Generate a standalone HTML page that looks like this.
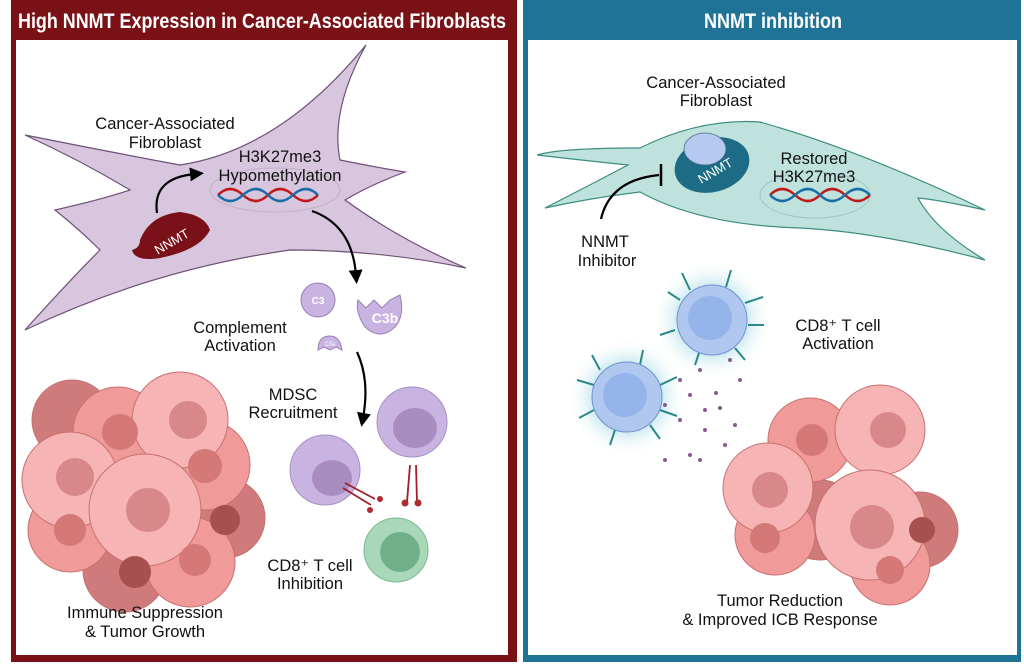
<!DOCTYPE html>
<html><head><meta charset="utf-8"><style>
body{margin:0;width:1024px;height:662px;background:#fff;overflow:hidden}
svg text{font-family:"Liberation Sans",sans-serif}
.t{font-size:16.5px;fill:#111;text-anchor:middle}
.h{font-family:"Liberation Sans",sans-serif;font-weight:bold;font-size:21px;fill:#fff}
</style></head><body>
<svg width="1024" height="662" viewBox="0 0 1024 662">
<defs>
<radialGradient id="glow"><stop offset="0.5" stop-color="#a9dce8"/><stop offset="1" stop-color="#fff" stop-opacity="0"/></radialGradient>
<marker id="ar" markerWidth="14" markerHeight="14" refX="5" refY="7" orient="auto" markerUnits="userSpaceOnUse" viewBox="0 0 14 14"><path d="M0,0 L14,7 L0,14Z" fill="#000"/></marker>
</defs>
<rect x="11" y="0" width="506" height="662" fill="#7a1116"/>
<rect x="16" y="40" width="492" height="615" fill="#fff"/>
<rect x="523" y="0" width="498" height="662" fill="#1f7396"/>
<rect x="528" y="40" width="489" height="615" fill="#fff"/>
<text class="h" x="18" y="28" textLength="488" lengthAdjust="spacingAndGlyphs">High NNMT Expression in Cancer-Associated Fibroblasts</text>
<text class="h" x="704" y="28" textLength="138" lengthAdjust="spacingAndGlyphs">NNMT inhibition</text>

<path d="M25,135 Q100,150 180,165 Q280,150 366,45 Q330,110 340,160 Q380,168 405,172 Q370,185 345,200 Q400,240 466,268 Q380,250 290,250 Q150,270 25,330 Q70,280 100,250 Q80,230 55,210 Q100,200 130,190 Q80,160 25,135Z" fill="#d8c6de" stroke="#6d5176" stroke-width="1.2"/>
<ellipse cx="275" cy="190" rx="65" ry="22" fill="none" stroke="#c0b0c4"/>
<path d="M218,195 q12,-12 25,0 t25,0 t25,0 t25,0" fill="none" stroke="#c01a1a" stroke-width="2.5"/>
<path d="M218,195 q12,12 25,0 t25,0 t25,0 t25,0" fill="none" stroke="#1a6ea6" stroke-width="2.5"/>
<path d="M140,240 Q150,215 180,212 Q205,215 210,230 Q200,250 160,258 Q135,262 132,250 Q140,248 140,240Z" fill="#7a1018"/>
<text x="172" y="246" fill="#fff" font-size="13" text-anchor="middle" transform="rotate(-30 172 242)">NNMT</text>
<path d="M157,213 Q152,178 195,174" fill="none" stroke="#000" stroke-width="2.2" marker-end="url(#ar)"/>
<text class="t" x="165" y="129">Cancer-Associated</text>
<text class="t" x="165" y="148">Fibroblast</text>
<text class="t" x="280" y="162">H3K27me3</text>
<text class="t" x="280" y="181">Hypomethylation</text>
<path d="M312,211 Q352,225 356,275" fill="none" stroke="#000" stroke-width="2.2" marker-end="url(#ar)"/>
<circle cx="318" cy="300" r="17" fill="#c9b3e0" stroke="#9a80b8"/>
<text x="318" y="304" fill="#fff" font-size="10" font-weight="bold" text-anchor="middle">C3</text>
<path d="M358,300 l8,8 l8,-8 l8,8 l8,-8 l10,-5 q5,20 -5,32 q-15,14 -30,0 q-10,-15 -7,-27Z" fill="#c9b3e0" stroke="#9a80b8"/>
<text x="385" y="323" fill="#fff" font-size="14" font-weight="bold" text-anchor="middle">C3b</text>
<path d="M318,350 q0,-14 12,-14 q10,0 12,14 l-6,-3 l-6,3 l-6,-3Z" fill="#c9b3e0" stroke="#9a80b8"/>
<text x="330" y="346" fill="#fff" font-size="6" text-anchor="middle">C3a</text>
<text class="t" x="240" y="333">Complement</text>
<text class="t" x="240" y="351">Activation</text>
<path d="M357,352 Q370,380 363,418" fill="none" stroke="#000" stroke-width="2.2" marker-end="url(#ar)"/>
<text class="t" x="293" y="400">MDSC</text>
<text class="t" x="293" y="418">Recruitment</text>
<circle cx="325" cy="470" r="35" fill="#c9b3e0" stroke="#a890c8"/>
<ellipse cx="332" cy="478" rx="20" ry="18" fill="#a98dc0"/>
<circle cx="412" cy="422" r="35" fill="#c9b3e0" stroke="#a890c8"/>
<ellipse cx="415" cy="428" rx="22" ry="20" fill="#a98dc0"/>
<path d="M345,483 l30,16 M343,488 l28,17 M410,465 l-3,37 M416,465 l1,37" stroke="#a0202a" stroke-width="1.8"/>
<circle cx="380" cy="499" r="3" fill="#b02a30"/><circle cx="370" cy="510" r="3" fill="#b02a30"/><circle cx="405" cy="503" r="3.5" fill="#b02a30"/><circle cx="418" cy="503" r="3.5" fill="#b02a30"/>
<circle cx="396" cy="550" r="32" fill="#a8d8b8" stroke="#7ab890"/>
<circle cx="400" cy="552" r="20" fill="#70b088"/>
<text class="t" x="310" y="571">CD8⁺ T cell</text>
<text class="t" x="310" y="589">Inhibition</text>
<g stroke="#c87070" stroke-width="1">
<circle cx="72" cy="420" r="40" fill="#cf7b7b"/>
<circle cx="118" cy="432" r="45" fill="#f09a9a"/>
<circle cx="225" cy="518" r="40" fill="#cf7b7b"/>
<circle cx="125" cy="570" r="42" fill="#cf7b7b"/>
<circle cx="205" cy="465" r="45" fill="#f09a9a"/>
<circle cx="70" cy="530" r="42" fill="#f09a9a"/>
<circle cx="190" cy="562" r="45" fill="#f09a9a"/>
<circle cx="180" cy="420" r="48" fill="#f7b4b4"/>
<circle cx="70" cy="480" r="48" fill="#f7b4b4"/>
<circle cx="145" cy="510" r="56" fill="#f7b4b4"/>
</g>
<g fill="#d47878">
<circle cx="120" cy="432" r="18"/><circle cx="188" cy="420" r="19" fill="#d88888"/><circle cx="75" cy="477" r="19" fill="#d88888"/><circle cx="205" cy="466" r="17"/><circle cx="70" cy="530" r="16"/><circle cx="148" cy="510" r="22" fill="#d88888"/><circle cx="225" cy="520" r="15" fill="#a85050"/><circle cx="135" cy="572" r="16" fill="#a85050"/><circle cx="195" cy="560" r="16"/>
</g>
<text class="t" x="145" y="618">Immune Suppression</text>
<text class="t" x="145" y="637">&amp; Tumor Growth</text>

<path d="M537,155 Q560,148 640,148 Q700,118 760,122 Q860,150 985,210 Q940,200 918,198 Q935,230 985,260 Q880,232 800,228 Q700,225 640,192 Q590,198 545,208 Q590,185 628,165 Q580,160 537,155Z" fill="#bfe3dc" stroke="#3d8c82" stroke-width="1.2"/>
<ellipse cx="815" cy="195" rx="55" ry="23" fill="none" stroke="#9cc8c8"/>
<path d="M770,195 q12,-12 25,0 t25,0 t25,0 t25,0" fill="none" stroke="#c01a1a" stroke-width="2.5"/>
<path d="M770,195 q12,12 25,0 t25,0 t25,0 t25,0" fill="none" stroke="#1a6ea6" stroke-width="2.5"/>
<ellipse cx="712" cy="165" rx="38" ry="27" fill="#1d6b85" transform="rotate(-15 712 165)"/>
<text x="716" y="175" fill="#fff" font-size="13" text-anchor="middle" transform="rotate(-30 716 172)">NNMT</text>
<ellipse cx="705" cy="149" rx="21" ry="16" fill="#b6caef" stroke="#4a6a90" stroke-width="0.8"/>
<path d="M601,219 Q610,180 659,175" fill="none" stroke="#000" stroke-width="2.2"/>
<path d="M661,164 V186" stroke="#000" stroke-width="2.5"/>
<text class="t" x="716" y="88">Cancer-Associated</text>
<text class="t" x="716" y="106">Fibroblast</text>
<text class="t" x="814" y="164">Restored</text>
<text class="t" x="814" y="182">H3K27me3</text>
<text class="t" x="605" y="247">NNMT</text>
<text class="t" x="607" y="266">Inhibitor</text>
<circle cx="712" cy="320" r="60" fill="url(#glow)" opacity="0.8"/>
<circle cx="627" cy="397" r="60" fill="url(#glow)" opacity="0.8"/>
<g stroke="#2a8a8a" stroke-width="2">
<path d="M690,290 l-8,-17 M726,287 l5,-17 M745,303 l18,-6 M748,325 l16,0 M735,348 l10,12 M700,350 l-5,15 M675,330 l-15,5 M680,300 l-12,-8"/>
<path d="M600,370 l-8,-15 M640,365 l3,-15 M660,385 l17,-8 M660,410 l17,6 M650,425 l10,14 M615,430 l-5,15 M594,410 l-15,8 M594,385 l-17,-5"/>
</g>
<circle cx="712" cy="320" r="35" fill="#b0c8f0" stroke="#7090d0"/>
<circle cx="710" cy="318" r="22" fill="#94b4ea"/>
<circle cx="627" cy="397" r="35" fill="#b0c8f0" stroke="#7090d0"/>
<circle cx="625" cy="395" r="22" fill="#94b4ea"/>
<g fill="#8a5a90">
<circle cx="680" cy="380" r="2"/><circle cx="700" cy="370" r="2"/><circle cx="690" cy="395" r="2"/><circle cx="716" cy="393" r="2"/><circle cx="705" cy="410" r="2"/><circle cx="680" cy="420" r="2"/><circle cx="720" cy="408" r="2"/><circle cx="665" cy="405" r="2"/><circle cx="705" cy="430" r="2"/><circle cx="690" cy="455" r="2"/><circle cx="725" cy="445" r="2"/><circle cx="665" cy="460" r="2"/><circle cx="730" cy="360" r="2"/><circle cx="740" cy="380" r="2"/><circle cx="735" cy="425" r="2"/><circle cx="700" cy="460" r="2"/>
</g>
<text class="t" x="838" y="331">CD8⁺ T cell</text>
<text class="t" x="838" y="349">Activation</text>
<g stroke="#c87070" stroke-width="1">
<circle cx="820" cy="520" r="40" fill="#cf7b7b"/>
<circle cx="920" cy="530" r="38" fill="#cf7b7b"/>
<circle cx="810" cy="440" r="42" fill="#f09a9a"/>
<circle cx="775" cy="535" r="40" fill="#f09a9a"/>
<circle cx="890" cy="565" r="40" fill="#f09a9a"/>
<circle cx="880" cy="430" r="45" fill="#f7b4b4"/>
<circle cx="768" cy="488" r="45" fill="#f7b4b4"/>
<circle cx="870" cy="525" r="55" fill="#f7b4b4"/>
</g>
<g fill="#d47878">
<circle cx="812" cy="440" r="16"/><circle cx="888" cy="430" r="18" fill="#d88888"/><circle cx="770" cy="490" r="18" fill="#d88888"/><circle cx="765" cy="538" r="15"/><circle cx="872" cy="527" r="22" fill="#d88888"/><circle cx="922" cy="530" r="13" fill="#a85050"/><circle cx="890" cy="570" r="14"/>
</g>
<text class="t" x="780" y="606">Tumor Reduction</text>
<text class="t" x="780" y="625">&amp; Improved ICB Response</text>
</svg>
</body></html>
